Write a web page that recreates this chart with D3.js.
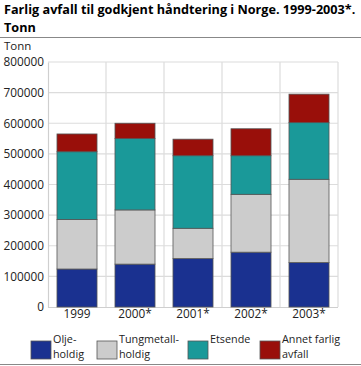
<!DOCTYPE html>
<html><head><meta charset="utf-8">
<script src="https://cdn.jsdelivr.net/npm/d3@7"></script>
<style>body{margin:0;background:#fff}svg{display:block}text{font-family:"Open Sans",sans-serif}</style>
</head><body>
<script>
const years = ["1999","2000*","2001*","2002*","2003*"];
const oljeholdig = [124000,140000,158000,179000,145000];
const tungmetallholdig = [162000,177000,99000,189000,272000];
const etsende = [221000,233000,237000,126000,185000];
const annet = [58000,50000,54000,88000,93000];
const seriesNames = ["Olje-\nholdig","Tungmetall-\nholdig","Etsende","Annet farlig\navfall"];
const colors = ["#1a3190","#cccccc","#1a9999","#990f0a"];
const yTicks = [0,100000,200000,300000,400000,500000,600000,700000,800000];

const W=361,H=366;
const svg=d3.select("body").append("svg").attr("width",W).attr("height",H);
const m={l:48,r:338,t:62,b:307};
const x=d3.scaleBand().domain(years).range([m.l,m.r]).paddingInner(0.31).paddingOuter(0.155);
const xb=d3.scaleBand().domain(years).range([m.l,m.r]);
const y=d3.scaleLinear().domain([0,800000]).range([m.b,m.t]);

const t1=svg.append("text").attr("x",4).attr("y",14.2).attr("font-size",13.5).attr("font-weight","bold").attr("fill","#000").text("Farlig avfall til godkjent håndtering i Norge. 1999-2003*.");
const w1=t1.node().getComputedTextLength();
const fs=Math.min(13.5,13.5*352/w1);
t1.attr("font-size",fs);
svg.append("text").attr("x",4).attr("y",31.8).attr("font-size",fs).attr("font-weight","bold").attr("fill","#000").text("Tonn");
svg.append("line").attr("x1",0).attr("x2",W).attr("y1",37.5).attr("y2",37.5).attr("stroke","#888").attr("stroke-width",1);
svg.append("line").attr("x1",0).attr("x2",W).attr("y1",364.5).attr("y2",364.5).attr("stroke","#888").attr("stroke-width",1);
svg.append("text").attr("x",4).attr("y",50).attr("font-size",11.5).attr("fill","#222").text("Tonn");

// grid
const g=svg.append("g");
g.selectAll(".hg").data(yTicks.filter(d=>d>0)).enter().append("line")
 .attr("x1",m.l).attr("x2",m.r).attr("y1",d=>y(d)).attr("y2",d=>y(d)).attr("stroke","#dcdcdc").attr("stroke-width",1.2);
g.selectAll(".vg").data(years).enter().append("line")
 .attr("x1",d=>xb(d)+xb.bandwidth()).attr("x2",d=>xb(d)+xb.bandwidth()).attr("y1",m.t).attr("y2",m.b).attr("stroke","#dcdcdc").attr("stroke-width",1.2);

// y axis
const ya=svg.append("g").attr("transform",`translate(${m.l},0)`).call(d3.axisLeft(y).tickValues(yTicks).tickSize(0).tickPadding(4).tickFormat(d=>String(d)));
ya.select(".domain").attr("stroke","#cfcfcf").attr("stroke-width",1.2);
ya.selectAll("text").attr("font-size",11.8).attr("fill","#222").attr("font-family","'Open Sans',sans-serif");
// x axis
const xa=svg.append("g").attr("transform",`translate(0,${m.b})`).call(d3.axisBottom(x).tickSize(0).tickPadding(3));
xa.select(".domain").attr("stroke","#cfcfcf").attr("stroke-width",1.2).attr("d",`M${m.l},0.5H${m.r}`);
xa.selectAll("text").attr("font-size",11.8).attr("fill","#222").attr("font-family","'Open Sans',sans-serif");

const data=years.map((yr,i)=>({year:yr,s0:oljeholdig[i],s1:tungmetallholdig[i],s2:etsende[i],s3:annet[i]}));
const stack=d3.stack().keys(["s0","s1","s2","s3"])(data);
svg.selectAll(".ser").data(stack).enter().append("g").attr("fill",(d,i)=>colors[i])
 .selectAll("rect").data(d=>d).enter().append("rect")
 .attr("x",d=>x(d.data.year)).attr("width",x.bandwidth())
 .attr("y",d=>y(d[1])).attr("height",d=>y(d[0])-y(d[1]))
 .attr("stroke","#555").attr("stroke-width",0.8);

// legend
const lx=[31,97,188,260];
const lg=svg.append("g");
seriesNames.forEach((n,i)=>{
  lg.append("rect").attr("x",lx[i]).attr("y",341).attr("width",20).attr("height",18).attr("fill",colors[i]).attr("stroke","#555").attr("stroke-width",0.8);
  const lines=n.split("\n");
  lines.forEach((s,j)=>lg.append("text").attr("x",lx[i]+22).attr("y",343+j*14.8).attr("font-size",10.8).attr("fill","#222").text(s));
});
</script>
</body></html>
